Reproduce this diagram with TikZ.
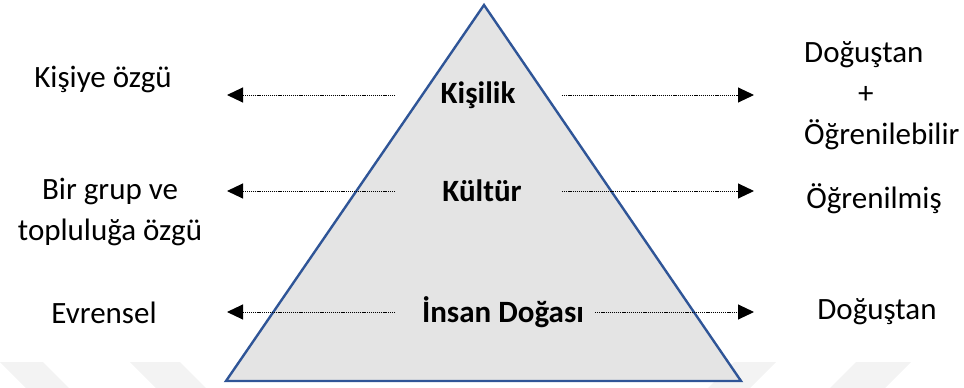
\documentclass[tikz,border=0pt]{standalone}
\usepackage{fontspec}
\setmainfont{Carlito}
\usetikzlibrary{arrows.meta}
\definecolor{trifill}{RGB}{228,228,228}
\definecolor{triedge}{RGB}{47,85,151}
\definecolor{wmark}{RGB}{243,243,243}
\tikzset{
  lbl/.style={font=\fontsize{31}{41}\selectfont, align=center, inner sep=0pt},
  lblleft/.style={font=\fontsize{31}{41}\selectfont, align=left, inner sep=0pt},
  blbl/.style={font=\fontsize{31}{41}\selectfont\bfseries, inner sep=0pt},
  dotarrow/.style={line width=1pt, dash pattern=on 1.2pt off 0.9pt, -{Triangle[length=16pt,width=15pt]}},
}
\begin{document}
\begin{tikzpicture}[x=1pt,y=-1pt]
\useasboundingbox (0,0) rectangle (964,388);
% faint watermark
\fill[wmark] (0,362) -- (43,362) -- (69,388) -- (26,388) -- cycle;
\fill[wmark] (130,362) -- (180,362) -- (206,388) -- (156,388) -- cycle;
\fill[wmark] (734,362) -- (776,362) -- (750,388) -- (708,388) -- cycle;
\fill[wmark] (856,362) -- (911,362) -- (885,388) -- (830,388) -- cycle;
% pyramid
\draw[fill=trifill, draw=triedge, line width=2.4pt, line join=miter] (484,5) -- (741,381) -- (226,381) -- cycle;
% centre labels
\node[blbl] (kis) at (478,95) {Kişilik};
\node[blbl] (kul) at (482,191) {Kültür};
\node[blbl] (ins) at (503,312) {İnsan Doğası};
% left labels
\node[lbl] (l1) at (103,79) {Kişiye özgü};
\node[lbl] (l2) at (110,212) {Bir grup ve\\topluluğa özgü};
\node[lbl] (l3) at (104,313) {Evrensel};
% right labels
\node[lblleft, anchor=west] (r1) at (804,96) {Doğuştan\\\hspace*{54pt}+\\Öğrenilebilir};
\node[lbl] (r2) at (874,199) {Öğrenilmiş};
\node[lbl] (r3) at (877,312) {Doğuştan};
% arrow coordinates
\coordinate (kisL) at (395,95);  \coordinate (kisLt) at (227,95);
\coordinate (kisR) at (562,95);  \coordinate (kisRt) at (754,95);
\coordinate (kulL) at (395,191); \coordinate (kulLt) at (227,191);
\coordinate (kulR) at (562,191); \coordinate (kulRt) at (754,191);
\coordinate (insL) at (395,312); \coordinate (insLt) at (227,312);
\coordinate (insR) at (595,312); \coordinate (insRt) at (754,312);
\draw[dotarrow] (kisL) -- (kisLt);
\draw[dotarrow] (kisR) -- (kisRt);
\draw[dotarrow] (kulL) -- (kulLt);
\draw[dotarrow] (kulR) -- (kulRt);
\draw[dotarrow] (insL) -- (insLt);
\draw[dotarrow] (insR) -- (insRt);
\end{tikzpicture}
\end{document}
